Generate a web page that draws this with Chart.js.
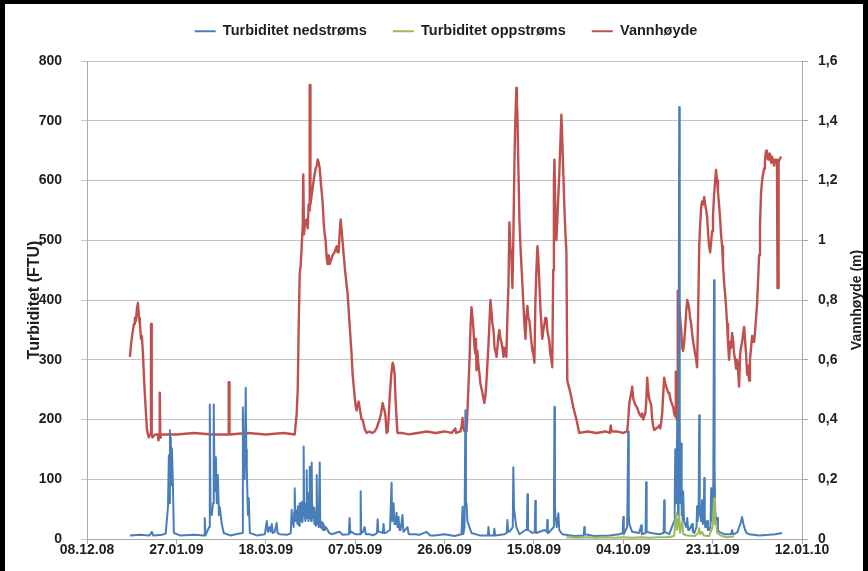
<!DOCTYPE html>
<html>
<head>
<meta charset="utf-8">
<script src="https://cdn.jsdelivr.net/npm/chart.js@4/dist/chart.umd.min.js"></script>
<style>
  html, body { margin: 0; padding: 0; background: #fff; }
  #frame {
    position: absolute; left: 0; top: 0; width: 868px; height: 571px;
    box-sizing: border-box; background: #fff;
    border-left: 5px solid #000; border-top: 4px solid #000; border-right: 5px solid #000;
  }
  #frame canvas { display: block; }
</style>
</head>
<body>
<div id="frame"><canvas id="chart" width="858" height="567"></canvas></div>
<script>
// Days counted from 08.12.08; one date label every 50 days.
const dateTicks = ['08.12.08', '27.01.09', '18.03.09', '07.05.09', '26.06.09',
                   '15.08.09', '04.10.09', '23.11.09', '12.01.10'];
const levelTicks = ['0', '0,2', '0,4', '0,6', '0,8', '1', '1,2', '1,4', '1,6'];
const seriesNames = ['Turbiditet nedstrøms', 'Turbiditet oppstrøms', 'Vannhøyde'];

// Turbidity downstream [day, FTU]
const turbDown = [
  [24,6],[30,7],[35,6],[36.3,12],[37,6],[42,7],[44,9],[45.3,53],[45.8,140],[46.1,60],[46.4,182],
  [46.7,120],[46.9,170],[47.2,90],[47.5,152],[48.0,100],[48.6,10],[52,6],[60,7],[65.6,6],[65.9,35],
  [66.3,6],[68.3,20],[68.7,225],[69.1,40],[69.8,40],[70.5,60],[70.9,225],[71.4,80],[72.1,137],
  [72.6,60],[73.2,107],[73.8,40],[74.3,53],[75.4,25],[76.5,10],[80,6],[86.8,10],[87.2,220],[87.5,150],
  [87.7,150],[88.2,100],[88.8,253],[89.1,150],[89.4,120],[90,40],[90.5,68],[91.1,10],[95,6],[99.5,8],
  [100.6,30],[101.2,12],[102.2,20],[102.8,12],[103.4,25],[104,10],[105,12],[106.1,27],[106.6,10],
  [107.8,8],[112,7],[114,10],
  [114.5,49],[114.8,25],[115.1,30],[115.4,38],[115.6,20],[115.9,45],[116.2,85],[116.6,30],[116.9,48],
  [117.3,40],[117.8,25],[118.0,55],[118.3,50],[118.7,22],[119.0,60],[119.3,35],[119.5,30],[119.8,52],
  [120.1,62],[120.5,28],[120.9,45],[121.2,155],[121.5,40],[121.8,50],[122.0,35],[122.2,30],[122.6,60],
  [122.9,115],[123.2,35],[123.5,77],[123.9,30],[124.3,55],[124.6,121],[124.9,35],[125.1,45],[125.4,30],
  [125.7,128],[126.0,35],[126.2,55],[126.4,50],[126.8,40],[127.0,52],[127.2,25],[127.6,45],[128.0,22],
  [128.3,40],[128.5,107],[128.8,25],[129.1,35],[129.4,30],[129.6,20],[130.2,128],[130.5,20],[130.7,30],
  [131.2,18],[131.7,28],[132.1,15],[132.4,25],[133.0,15],[133.6,20],[134.6,15],[135.5,10],[136.9,8],
  [139,10],[141.3,12],[143,7],[146.5,8],[146.9,35],[147.3,10],[148,12],[150,8],[152.8,8],[153.1,80],
  [153.4,10],[154.5,12],[155.3,20],[156,8],[158.1,8],[160,6],[162.2,10],[162.6,33],[163,12],[163.7,12],
  [165.5,10],[165.9,25],[166.3,10],[167,10],[169.5,15],[170.4,94],[170.7,30],[171,30],[171.5,60],
  [172,25],[172.6,25],[173.2,44],[173.7,20],[174.3,37],[174.8,15],[175.4,15],[176.5,40],[177,12],
  [179.3,20],[180,8],[183.2,8],[186,7],[189.9,12],[192,6],[194.4,6],[200,8],[205.6,5],[209.5,8],
  [210.1,54],[210.5,8],[211.2,20],[211.7,215],[212.0,60],[212.3,60],[212.8,30],[213.4,25],[215.1,10],
  [219.6,6],[224.3,6],[224.6,20],[225,6],[227.6,6],[227.9,17],[228.3,6],[233.5,8],[234.8,10],[235.2,32],
  [235.6,12],[236.3,12],[238.2,20],[238.5,120],[238.9,50],[239.1,50],[240.2,20],[241.9,8],[245.3,15],
  [246.1,15],[246.4,75],[246.7,15],[246.9,15],[249.2,10],[250.5,12],[250.8,64],[251.1,10],[251.4,10],
  [255.9,15],[257.3,12],[257.5,32],[257.8,10],[258.1,10],[261.2,20],[261.5,221],[261.8,60],[262,40],
  [262.8,20],[263.7,43],[264.2,15],[265.9,8],[272.6,5],[277.9,6],[278.2,20],[278.5,8],[283.8,5],
  [292.2,6],[297.8,8],[299.7,10],[300,37],[300.3,8],[302.2,20],[302.8,180],[303.1,40],[303.4,25],
  [305,12],[308.9,10],[310.1,23],[310.4,8],[312.5,10],[312.8,95],[313.1,12],[315.6,10],[320.1,8],
  [322.6,10],[322.9,65],[323.2,12],[325.7,8],[328.5,30],[328.8,60],[329.1,150],[329.4,60],[329.6,60],
  [329.9,120],[330.2,200],[330.5,80],[330.7,40],[331.0,300],[331.3,723],[331.6,200],[331.8,100],
  [332.1,60],[332.4,160],[332.7,40],[333,50],[333.3,30],[333.5,80],[334,30],[334.6,25],[335.2,20],
  [335.8,35],[336.3,15],[336.9,15],[337.7,20],[338.5,25],[339,12],[339.7,10],[341,20],[341.3,55],
  [341.6,30],[342.2,60],[342.5,207],[342.8,50],[343,40],[343.6,30],[344.1,65],[344.5,25],[345,30],
  [345.3,102],[345.6,40],[345.8,20],[346.4,20],[346.9,30],[347.4,15],[348,15],[348.8,20],[349.2,85],
  [349.5,40],[349.7,30],[350.3,40],[350.8,433],[351.1,120],[351.4,50],[351.9,30],[352.5,35],[353,15],
  [353.6,12],[356.4,8],[360.3,8],[360.9,15],[361.4,8],[362,8],[364,12],[364.8,20],[365.5,25],
  [366.5,37],[367.2,25],[368.2,15],[369,10],[370.4,8],[376,6],[381.6,7],[385,8],[388.8,10]
];

// Turbidity upstream [day, FTU]
const turbUp = [
  [268.2,3],[275,2],[280,3],[285,2],[290,3],[295,2],[300,3],[305,2],[310,3],[315,2],[320,3],[325,3],
  [328.5,5],[329.6,43],[330.2,15],[331.3,40],[331.8,10],[333,30],[333.6,8],[336,6],[340,5],[342,10],
  [342.5,18],[343,8],[344.1,12],[345,6],[348,5],[350,20],[350.8,68],[351.3,25],[351.9,30],[352.5,10],
  [355,5],[358,3],[362,4]
];

// Water level [day, m]
const waterLevel = [
  [24.0,0.61],[24.8,0.66],[25.7,0.70],[26.3,0.72],[26.8,0.74],[27.4,0.73],[27.9,0.77],[28.5,0.79],
  [29.1,0.74],[29.6,0.72],[30.2,0.67],[30.7,0.68],[31.3,0.62],[31.8,0.55],[32.4,0.48],[33.0,0.42],
  [33.5,0.37],[34.1,0.35],[34.6,0.34],[35.2,0.35],[35.6,0.35],[35.8,0.72],[36.0,0.72],[36.2,0.35],
  [36.6,0.34],[38,0.35],[39.6,0.35],[40.0,0.33],[40.4,0.35],[40.6,0.49],[40.8,0.49],[41.0,0.34],
  [41.3,0.35],[50,0.35],[60,0.355],[70,0.35],[79.1,0.35],[79.3,0.525],[79.5,0.525],[79.7,0.35],
  [90,0.355],[100,0.35],[110,0.355],[116.2,0.35],[117.3,0.42],[117.9,0.50],[118.4,0.70],[119.0,0.89],
  [119.6,0.92],[120.1,0.98],[120.7,1.05],[121.0,1.22],[121.2,1.22],[121.4,1.02],[122.0,1.06],
  [122.9,1.07],[123.5,1.04],[124.0,1.12],[124.4,1.10],[124.6,1.52],[124.8,1.52],[125.0,1.12],
  [125.7,1.15],[126.8,1.20],[127.9,1.24],[128.5,1.25],[129.1,1.27],[129.6,1.26],[130.2,1.24],
  [131.0,1.18],[131.8,1.13],[132.4,1.06],[133.0,1.02],[133.5,1.0],[134.1,0.94],[134.6,0.92],
  [135.2,0.95],[135.8,0.92],[136.3,0.93],[137.4,0.95],[138.5,0.96],[139.1,0.97],[139.7,0.98],
  [140.2,0.96],[140.8,0.96],[141.3,1.02],[141.9,1.07],[142.5,1.03],[143.6,0.95],[144.7,0.88],
  [145.8,0.82],[146.9,0.72],[148.0,0.62],[148.6,0.55],[149.7,0.48],[150.2,0.45],[150.8,0.43],
  [151.4,0.45],[152.0,0.46],[152.5,0.44],[153.6,0.40],[154.2,0.40],[155.3,0.37],[156.4,0.355],
  [158,0.36],[159.5,0.355],[160.9,0.36],[162.0,0.37],[163.1,0.39],[163.7,0.40],[164.5,0.42],
  [165.4,0.455],[166.0,0.44],[166.5,0.43],[167.0,0.41],[167.6,0.355],[168.2,0.36],[168.7,0.40],
  [169.3,0.47],[170.2,0.55],[171.0,0.59],[171.5,0.58],[172.1,0.55],[172.6,0.47],[173.2,0.40],
  [173.7,0.355],[176,0.355],[180,0.35],[185,0.355],[190,0.36],[195,0.355],[200,0.36],[204,0.355],
  [206,0.37],[206.5,0.355],[208.9,0.36],[209.6,0.38],[210.1,0.405],[210.6,0.37],[211.2,0.36],
  [212.3,0.36],[213,0.45],[214.0,0.60],[214.6,0.72],[215.1,0.776],[215.7,0.74],[216.2,0.70],
  [216.8,0.64],[217.3,0.62],[217.6,0.67],[217.9,0.565],[218.4,0.63],[219.0,0.58],[219.6,0.55],
  [220.1,0.52],[221.2,0.49],[222.3,0.455],[222.9,0.48],[223.5,0.53],[224.6,0.65],[225.7,0.80],
  [226.3,0.76],[226.8,0.72],[227.4,0.70],[228.0,0.64],[228.5,0.63],[229.1,0.61],[229.6,0.64],
  [230.2,0.68],[230.7,0.70],[231.3,0.67],[231.8,0.66],[232.4,0.64],[233.0,0.61],[233.5,0.64],
  [234.1,0.62],[234.6,0.61],[235.2,0.75],[235.8,0.85],[236.3,1.06],[236.9,0.97],[237.4,0.95],
  [238.0,0.84],[238.5,1.0],[239.1,1.25],[239.6,1.40],[240.2,1.51],[240.5,1.46],[240.8,1.42],
  [241.3,1.25],[241.9,1.07],[242.5,0.98],[243.0,0.92],[243.6,0.85],[244.2,0.78],[244.7,0.72],
  [245.3,0.67],[245.8,0.74],[246.4,0.78],[246.9,0.74],[247.5,0.73],[248.0,0.70],[248.6,0.66],
  [249.2,0.63],[249.7,0.62],[250.3,0.59],[250.8,0.78],[251.4,0.90],[252.0,0.98],[252.5,0.94],
  [253.1,0.85],[253.6,0.78],[254.2,0.72],[254.7,0.67],[255.3,0.70],[255.9,0.72],[256.4,0.74],
  [257.0,0.74],[257.5,0.70],[258.1,0.68],[258.7,0.66],[259.2,0.62],[259.8,0.60],[260.3,0.575],
  [260.8,0.90],[261.2,1.20],[261.5,1.27],[262.0,1.10],[262.6,1.0],[263.1,1.07],[263.7,1.15],
  [264.2,1.22],[264.8,1.32],[265.4,1.42],[265.9,1.33],[266.5,1.22],[267.0,1.12],[267.6,1.03],
  [268.2,0.96],[268.7,0.53],[270.4,0.49],[272.1,0.44],[273.8,0.40],[275.4,0.355],[280,0.36],
  [285,0.355],[290,0.36],[292.5,0.355],[293.0,0.38],[293.5,0.36],[296,0.36],[300,0.355],[302.2,0.36],
  [302.8,0.40],[303.4,0.455],[304.2,0.48],[305.0,0.51],[305.6,0.47],[306.1,0.46],[306.7,0.45],
  [307.8,0.44],[308.9,0.42],[310.0,0.41],[310.6,0.42],[311.2,0.40],[311.7,0.41],[312.3,0.42],
  [312.8,0.45],[313.4,0.54],[313.9,0.50],[314.5,0.47],[315.0,0.46],[315.6,0.45],[316.2,0.40],
  [316.7,0.38],[317.3,0.365],[318.4,0.37],[319.5,0.375],[320.1,0.38],[320.7,0.37],[321.2,0.39],
  [321.8,0.42],[322.3,0.48],[322.9,0.54],[323.5,0.52],[324.0,0.51],[324.6,0.50],[325.1,0.49],
  [325.7,0.49],[326.3,0.47],[326.8,0.46],[327.4,0.45],[328.0,0.44],[328.5,0.42],[329.1,0.41],
  [329.4,0.56],[329.6,0.56],[329.9,0.40],[330.2,0.45],[330.5,0.83],[330.7,0.83],[331.3,0.78],
  [331.8,0.74],[332.4,0.70],[333.0,0.64],[333.5,0.63],[334.1,0.66],[334.6,0.70],[335.2,0.76],
  [335.8,0.80],[336.3,0.79],[336.9,0.77],[337.4,0.74],[338.0,0.72],[338.5,0.69],[339.1,0.66],
  [339.7,0.64],[340.2,0.62],[340.8,0.60],[341.3,0.575],[341.9,0.75],[342.5,0.98],[343.0,1.05],
  [343.6,1.11],[344.1,1.13],[344.7,1.12],[345.3,1.145],[345.8,1.12],[346.4,1.10],[346.9,1.08],
  [347.5,1.02],[348.0,0.98],[348.6,0.96],[349.1,0.99],[349.7,1.03],[350.2,1.08],[350.8,1.15],
  [351.4,1.20],[351.9,1.235],[352.5,1.20],[353.0,1.16],[353.6,1.12],[354.2,1.07],[354.7,1.02],
  [355.3,0.98],[355.8,0.92],[356.4,0.86],[357.0,0.82],[357.5,0.78],[358.1,0.72],[358.6,0.66],
  [359.2,0.60],[359.8,0.66],[360.3,0.64],[360.9,0.69],[361.5,0.66],[362.0,0.62],[362.6,0.60],
  [363.1,0.57],[363.7,0.60],[364.3,0.56],[364.8,0.51],[365.4,0.62],[365.9,0.64],[366.5,0.66],
  [367.1,0.69],[367.6,0.71],[368.2,0.66],[368.7,0.62],[369.3,0.55],[369.8,0.58],[370.4,0.53],
  [370.9,0.60],[371.5,0.64],[372.1,0.68],[372.6,0.66],[373.2,0.66],[373.8,0.70],[374.3,0.74],
  [374.9,0.79],[375.4,0.86],[376.0,0.95],[376.5,1.05],[377.1,1.16],[377.7,1.20],[378.2,1.22],
  [378.8,1.24],[379.3,1.27],[379.9,1.30],[380.4,1.28],[381.0,1.27],[381.5,1.29],[382.1,1.29],
  [382.7,1.26],[383.2,1.28],[383.8,1.27],[384.4,1.25],[384.9,1.27],[385.5,1.27],[386.0,1.26],
  [386.3,0.84],[386.6,0.84],[386.9,1.26],[387.4,1.27],[388.3,1.28]
];

const FONT = "'Liberation Sans', Arial, sans-serif";
const TEXT = '#1e1e1e';
const GRID = '#c4c4c4';
const AXIS = '#a9a9a9';

const toPoints = rows => rows.map(([x, y]) => ({ x, y }));

// Legend sits a little right of the canvas centre; right axis title reads bottom-to-top.
const layoutTweaks = {
  id: 'layoutTweaks',
  afterInit(chart) {
    const legend = chart.legend;
    const fit = legend.fit;
    legend.fit = function () { fit.call(this); this.height = 63; };
  },
  afterLayout(chart) {
    chart.legend.left += 12;
    chart.legend.right += 12;
  },
  afterDraw(chart) {
    const { ctx, chartArea } = chart;
    ctx.save();
    ctx.translate(852, (chartArea.top + chartArea.bottom) / 2);
    ctx.rotate(-Math.PI / 2);
    ctx.textAlign = 'center';
    ctx.textBaseline = 'middle';
    ctx.fillStyle = TEXT;
    ctx.font = 'bold 14px ' + FONT;
    ctx.fillText('Vannhøyde (m)', 0, 0);
    ctx.restore();
  }
};

new Chart(document.getElementById('chart'), {
  type: 'line',
  data: {
    datasets: [
      { label: seriesNames[0], data: toPoints(turbDown), yAxisID: 'y', order: 1,
        borderColor: '#4a7ebb', backgroundColor: '#4a7ebb', borderWidth: 2 },
      { label: seriesNames[1], data: toPoints(turbUp), yAxisID: 'y', order: 0,
        borderColor: '#9bbb59', backgroundColor: '#9bbb59', borderWidth: 2 },
      { label: seriesNames[2], data: toPoints(waterLevel), yAxisID: 'y2', order: 2,
        borderColor: '#c0504d', backgroundColor: '#c0504d', borderWidth: 2.4 }
    ]
  },
  options: {
    responsive: false,
    animation: false,
    events: [],
    layout: { padding: { top: -6, left: 0, right: 0, bottom: 0 } },
    elements: { point: { radius: 0 }, line: { tension: 0, borderJoinStyle: 'round' } },
    plugins: {
      tooltip: { enabled: false },
      legend: {
        position: 'top',
        labels: {
          boxWidth: 21, boxHeight: 2, padding: 26, color: TEXT,
          font: { family: FONT, size: 14.5, weight: 'bold' },
          sort: (a, b) => a.datasetIndex - b.datasetIndex,
          generateLabels: chart =>
            Chart.defaults.plugins.legend.labels.generateLabels(chart)
              .map(item => Object.assign(item, { lineWidth: 0, fillStyle: item.strokeStyle }))
        }
      }
    },
    scales: {
      x: {
        type: 'linear', position: 'bottom', min: 0, max: 400,
        afterFit: s => { s.height = 32; },
        ticks: {
          stepSize: 50, autoSkip: false, maxRotation: 0, padding: -2, color: TEXT,
          font: { family: FONT, size: 14, weight: 'bold' },
          callback: v => dateTicks[Math.round(v / 50)]
        },
        grid: { drawOnChartArea: false, drawTicks: true, tickLength: 5, color: AXIS },
        border: { color: AXIS }
      },
      y: {
        position: 'left', min: 0, max: 800,
        afterFit: s => { s.width = 82; },
        ticks: {
          stepSize: 100, padding: 19, color: TEXT,
          font: { family: FONT, size: 14, weight: 'bold' }
        },
        grid: { color: GRID, tickLength: 6 },
        border: { color: AXIS },
        title: {
          display: true, text: 'Turbiditet (FTU)', color: TEXT,
          font: { family: FONT, size: 16, weight: 'bold' },
          padding: { top: 20, bottom: 0 }
        }
      },
      y2: {
        position: 'right', min: 0, max: 1.6,
        afterFit: s => { s.width = 61; },
        ticks: {
          stepSize: 0.2, padding: 10, color: TEXT,
          font: { family: FONT, size: 14, weight: 'bold' },
          callback: v => levelTicks[Math.round(v / 0.2)]
        },
        grid: { drawOnChartArea: false, tickLength: 6, color: AXIS },
        border: { color: AXIS }
      }
    }
  },
  plugins: [layoutTweaks]
});
</script>
</body>
</html>
